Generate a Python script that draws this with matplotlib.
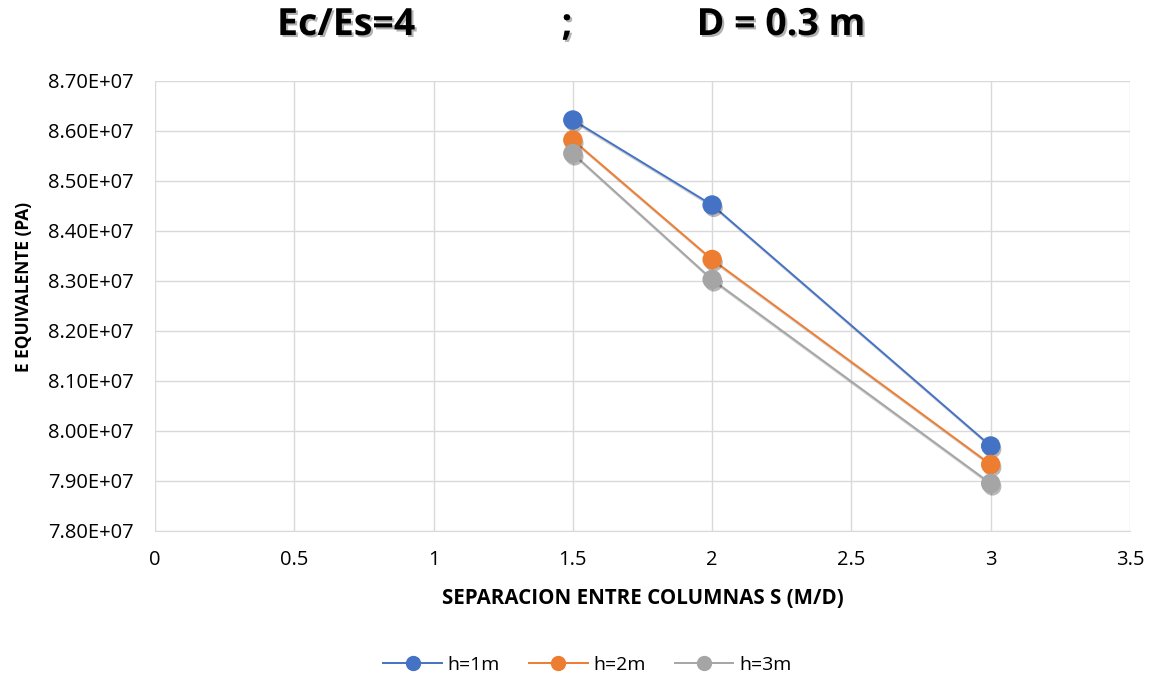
import matplotlib
matplotlib.use("Agg")
import matplotlib.pyplot as plt
import matplotlib.patheffects as pe
from matplotlib.lines import Line2D
from matplotlib.ticker import FuncFormatter, MultipleLocator

separacion = [1.5, 2, 3]
e_h1 = [8.622e7, 8.452e7, 7.970e7]
e_h2 = [8.582e7, 8.343e7, 7.933e7]
e_h3 = [8.555e7, 8.303e7, 7.895e7]
labels = ["h=1m", "h=2m", "h=3m"]
colors = ["#4472C4", "#ED7D31", "#A5A5A5"]

plt.rcParams['font.family'] = ['Open Sans', 'DejaVu Sans']

fig = plt.figure(figsize=(11.52, 6.83), dpi=100)
ax = fig.add_axes([155/1152, 1-531/683, (1130-155)/1152, (531-81)/683])

line_fx = [pe.SimpleLineShadow(offset=(1.2, -1.8), shadow_color='black', alpha=0.18), pe.Normal()]
mark_fx = [pe.SimplePatchShadow(offset=(1.2, -2.2), shadow_rgbFace='black', alpha=0.28), pe.Normal()]
handles = []
for ys, lab, c in zip([e_h1, e_h2, e_h3], labels, colors):
    ax.plot(separacion, ys, color=c, lw=1.4, path_effects=line_fx, zorder=3)
    ax.plot(separacion, ys, ls='none', marker='o', markersize=13,
            markerfacecolor=c, markeredgecolor=c, path_effects=mark_fx, zorder=4)
    handles.append(Line2D([], [], color=c, lw=1.4, marker='o', markersize=10,
                          markerfacecolor=c, markeredgecolor=c, label=lab))

ax.set_xlim(0, 3.5)
ax.set_ylim(7.8e7, 8.7e7)
ax.xaxis.set_major_locator(MultipleLocator(0.5))
ax.yaxis.set_major_locator(MultipleLocator(1e6))

def xfmt(v, pos):
    return f"{v:g}"

def yfmt(v, pos):
    m, e = f"{v:.2E}".split("E")
    return f"{m}E+{int(e):02d}"

ax.xaxis.set_major_formatter(FuncFormatter(xfmt))
ax.yaxis.set_major_formatter(FuncFormatter(yfmt))
ax.tick_params(axis='both', length=0, labelsize=14.5, colors='#000000')
ax.tick_params(axis='x', pad=14)
ax.tick_params(axis='y', pad=15.5)
ax.grid(True, color='#D9D9D9', lw=1)
ax.set_axisbelow(True)
for s in ['top', 'right', 'left']:
    ax.spines[s].set_visible(False)
ax.spines['bottom'].set_color('#D9D9D9')

ax.set_xlabel("SEPARACION ENTRE COLUMNAS S (M/D)", fontsize=14.8, fontweight='bold', labelpad=13)
ax.set_ylabel("E EQUIVALENTE (PA)", fontsize=12.5, fontweight='bold')
ax.yaxis.set_label_coords(-122/975, (531-287)/450)

title_fx = [pe.withSimplePatchShadow(offset=(1.5, -1.5), shadow_rgbFace='black', alpha=0.3)]
for txt, xc in [("Ec/Es=4", 346), (";", 567), ("D = 0.3 m", 781)]:
    fig.text(xc/1152, 1-25/683, txt, ha='center', va='center',
             fontsize=27, fontweight='bold', path_effects=title_fx)

fig.legend(handles=handles, loc='center', bbox_to_anchor=(0.51, 1-665/683), ncol=3,
           frameon=False, fontsize=14, handlelength=3.0, columnspacing=1.5,
           handletextpad=0.3)

fig.savefig("out.png", dpi=100)
